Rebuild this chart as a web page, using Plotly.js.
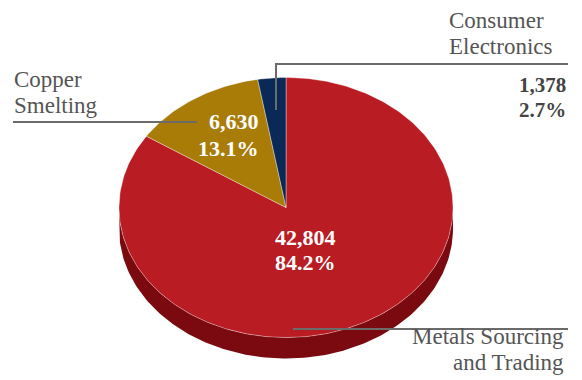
<!DOCTYPE html>
<html>
<head>
<meta charset="utf-8">
<script src="https://cdn.plot.ly/plotly-3.0.1.min.js"></script>
<style>
  html, body { margin: 0; padding: 0; background: #ffffff; }
  #chart { width: 582px; height: 380px; }
</style>
</head>
<body>
<div id="chart"></div>
<script>
// ---- data ----
const categories = ['Metals Sourcing and Trading', 'Copper Smelting', 'Consumer Electronics'];
const categoryLines = [['Metals Sourcing', 'and Trading'], ['Copper', 'Smelting'], ['Consumer', 'Electronics']];
const values = [42804, 6630, 1378];
const percentLabels = ['84.2%', '13.1%', '2.7%'];

// ---- styles ----
const topColors = ['#B91C23', '#A97C07', '#0B2957'];
const sideColors = ['#7A0A0F', '#6E5104', '#061A3A'];
const W = 582, H = 380;
const CX = 286, CY = 207.5, RX = 167, RY = 130, DEPTH = 21;
const serif = '"Liberation Serif", "Times New Roman", serif';

// axes mapping: unit circle -> ellipse in pixels
const xr = [-CX / RX, (W - CX) / RX];
const yr = [-(H - CY) / RY, CY / RY];
const d = DEPTH / RY;

const total = values.reduce((a, b) => a + b, 0);
const traces = [];
const slices = [];
let ang = 90; // start at 12 o'clock, clockwise
values.forEach((v, i) => {
  const sweep = v / total * 360;
  slices.push({ start: ang, end: ang - sweep, i });
  ang -= sweep;
});

function arc(a0, a1, dy) {
  const xs = [], ys = [];
  const n = Math.max(2, Math.ceil(Math.abs(a1 - a0) / 1));
  for (let k = 0; k <= n; k++) {
    const a = (a0 + (a1 - a0) * k / n) * Math.PI / 180;
    xs.push(Math.cos(a));
    ys.push(Math.sin(a) - dy);
  }
  return [xs, ys];
}

// side (depth) for front-facing parts: angles in [-180, 0]
slices.forEach(s => {
  const lo = s.end, hi = s.start;
  for (const off of [0, -360, 360]) {
    const a = Math.max(lo + off, -180), b = Math.min(hi + off, 0);
    if (b > a) {
      const [x1, y1] = arc(b, a, 0);
      const [x2, y2] = arc(a, b, d);
      traces.push({
        type: 'scatter', mode: 'lines', fill: 'toself',
        x: x1.concat(x2), y: y1.concat(y2),
        fillcolor: sideColors[s.i], line: { width: 0, color: sideColors[s.i] },
        hoverinfo: 'skip', showlegend: false
      });
    }
  }
});

// top faces
slices.forEach(s => {
  const [xs, ys] = arc(s.start, s.end, 0);
  traces.push({
    type: 'scatter', mode: 'lines', fill: 'toself',
    x: [0].concat(xs, [0]), y: [0].concat(ys, [0]),
    fillcolor: topColors[s.i], line: { width: 0.6, color: 'rgba(255,255,255,0.6)' },
    name: categories[s.i], hoverinfo: 'skip', showlegend: false
  });
});

// ---- annotations (pixel positions) ----
const px = x => x / W;
const py = y => 1 - y / H;
function ann(text, x, y, xanchor, size, color, bold) {
  return {
    xref: 'paper', yref: 'paper', x: px(x), y: py(y),
    xanchor: xanchor, yanchor: 'middle', showarrow: false, borderpad: 0,
    text: bold ? '<b>' + text + '</b>' : text,
    font: { family: serif, size: size, color: color }
  };
}
const fmt = v => v.toLocaleString('en-US');
const catColor = '#555555';
const CS = 23;
const annotations = [
  // category labels
  ann(categoryLines[2][0], 448, 20.2, 'left', CS, catColor),
  ann(categoryLines[2][1], 448, 46.2, 'left', CS, catColor),
  ann(categoryLines[1][0], 13, 79.2, 'left', CS, catColor),
  ann(categoryLines[1][1], 13, 105.2, 'left', CS, catColor),
  ann(categoryLines[0][0], 565, 336.2, 'right', CS, catColor),
  ann(categoryLines[0][1], 565, 362.2, 'right', CS, catColor),
  // value labels
  ann(fmt(values[0]), 305, 237.6, 'center', 22, '#ffffff', true),
  ann(percentLabels[0], 305, 262.6, 'center', 22, '#ffffff', true),
  ann(fmt(values[1]), 233.5, 121.6, 'center', 22, '#ffffff', true),
  ann(percentLabels[1], 228.5, 148.3, 'center', 22, '#ffffff', true),
  ann(fmt(values[2]), 567, 85.3, 'right', 21, '#444444', true),
  ann(percentLabels[2], 567, 110.3, 'right', 21, '#444444', true)
];

const lineStyle = { color: '#6b6b6b', width: 2 };
const shapes = [
  { type: 'line', xref: 'paper', yref: 'paper', x0: px(13), y0: py(122), x1: px(197), y1: py(122), line: lineStyle },
  { type: 'path', xref: 'paper', yref: 'paper',
    path: `M ${px(276)} ${py(110)} L ${px(276)} ${py(64)} L ${px(568)} ${py(64)}`, line: lineStyle },
  { type: 'line', xref: 'paper', yref: 'paper', x0: px(293), y0: py(329), x1: px(568), y1: py(329), line: lineStyle }
];

const layout = {
  width: W, height: H,
  margin: { l: 0, r: 0, t: 0, b: 0 },
  paper_bgcolor: '#ffffff', plot_bgcolor: '#ffffff',
  xaxis: { range: xr, visible: false, fixedrange: true },
  yaxis: { range: yr, visible: false, fixedrange: true },
  showlegend: false,
  annotations: annotations,
  shapes: shapes
};

Plotly.newPlot('chart', traces, layout, { staticPlot: true, displayModeBar: false });
</script>
</body>
</html>
